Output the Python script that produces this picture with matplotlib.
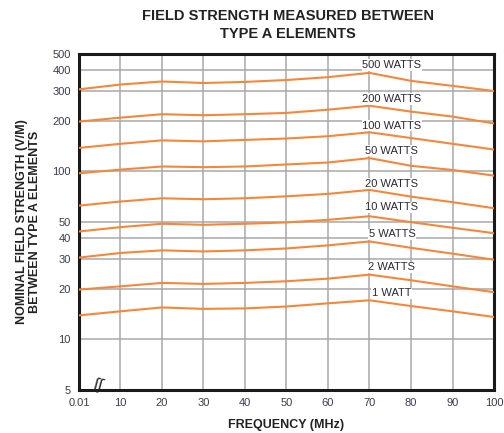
import matplotlib
matplotlib.use("Agg")
import matplotlib.pyplot as plt
import numpy as np

plt.rcParams['font.family'] = ['Liberation Sans', 'DejaVu Sans']

# frequency points (MHz), first point is the 0.01 MHz start before the axis break
freq = [0.01, 10, 20, 30, 40, 50, 60, 70, 80, 90, 100]
xtick_labels = ["0.01", "10", "20", "30", "40", "50", "60", "70", "80", "90", "100"]

# field strength (V/M), one list per power level
w500 = [308, 329, 343, 336, 341, 350, 364, 386, 346, 323, 301]
w200 = [198, 209, 219, 216, 219, 223, 233, 246, 227, 212, 193]
w100 = [138, 146, 153, 151, 154, 157, 162, 171, 158, 146, 135]
w50 = [97.5, 102.5, 107, 106, 107, 110, 113, 120, 108, 102, 94.4]
w20 = [62.6, 66.2, 69.2, 68.3, 69.2, 71.1, 73.5, 77.6, 70.8, 65.6, 60.4]
w10 = [43.9, 46.6, 48.8, 48.1, 48.8, 49.7, 51.5, 54.1, 49.9, 46.2, 42.9]
w5 = [30.7, 32.7, 33.9, 33.4, 33.9, 34.8, 36.3, 38.3, 35.1, 32.4, 29.8]
w2 = [19.8, 20.7, 21.7, 21.4, 21.7, 22.2, 23.0, 24.3, 22.5, 20.7, 19.1]
w1 = [13.9, 14.7, 15.5, 15.2, 15.3, 15.7, 16.4, 17.1, 15.8, 14.7, 13.6]

series = [w500, w200, w100, w50, w20, w10, w5, w2, w1]
labels = ["500 WATTS", "200 WATTS", "100 WATTS", "50 WATTS", "20 WATTS",
          "10 WATTS", "5 WATTS", "2 WATTS", "1 WATT"]
label_y = [430, 270, 187, 133, 84.6, 61, 42.2, 26.9, 18.8]

yticks = [5, 10, 20, 30, 40, 50, 100, 200, 300, 400, 500]

orange = '#f5873a'
tickcol = '#3c3c50'

fig = plt.figure(figsize=(5.04, 4.33), dpi=100)
ax = fig.add_axes([0.1567, 0.0993, 0.8235, 0.776])

for vals in series:
    ax.plot(freq, vals, color=orange, lw=1.5, zorder=3)

for lab, ly in zip(labels, label_y):
    ax.text(75.4, ly, lab, ha='center', va='center', fontsize=8, color='#2a2a38',
            zorder=4, bbox=dict(facecolor='white', edgecolor='none', pad=0.5))

ax.set_yscale('log')
ax.set_ylim(5, 500)
ax.set_xlim(0.01, 100)
ax.set_yticks(yticks)
ax.set_yticklabels([str(v) for v in yticks])
ax.yaxis.set_minor_locator(matplotlib.ticker.NullLocator())
ax.set_xticks(freq)
ax.set_xticklabels(xtick_labels)
ax.tick_params(length=0, labelsize=8, labelcolor=tickcol, pad=6)
ax.grid(True, color='#a8a8a8', lw=1.1, zorder=1)
ax.set_axisbelow(True)
for sp in ax.spines.values():
    sp.set_linewidth(2.2)
    sp.set_color('#1a1a1a')

# axis break mark
ax.text(4.6, 5.35, 'ʃʃ', ha='center', va='center', fontsize=11, color='#222222',
        family='DejaVu Sans', rotation=-15, clip_on=False, zorder=5)

ax.set_xlabel("FREQUENCY (MHz)", fontsize=9, fontweight='bold', color='#222222', labelpad=8)
ax.set_ylabel("NOMINAL FIELD STRENGTH (V/M)\nBETWEEN TYPE A ELEMENTS", fontsize=9,
              fontweight='bold', color='#222222', labelpad=8, linespacing=1.1)
fig.text(0.571, 0.942, "FIELD STRENGTH MEASURED BETWEEN\nTYPE A ELEMENTS", ha='center',
         va='center', fontsize=10.5, fontweight='bold', color='#222222', linespacing=1.3)

fig.savefig("out.png", dpi=100)
